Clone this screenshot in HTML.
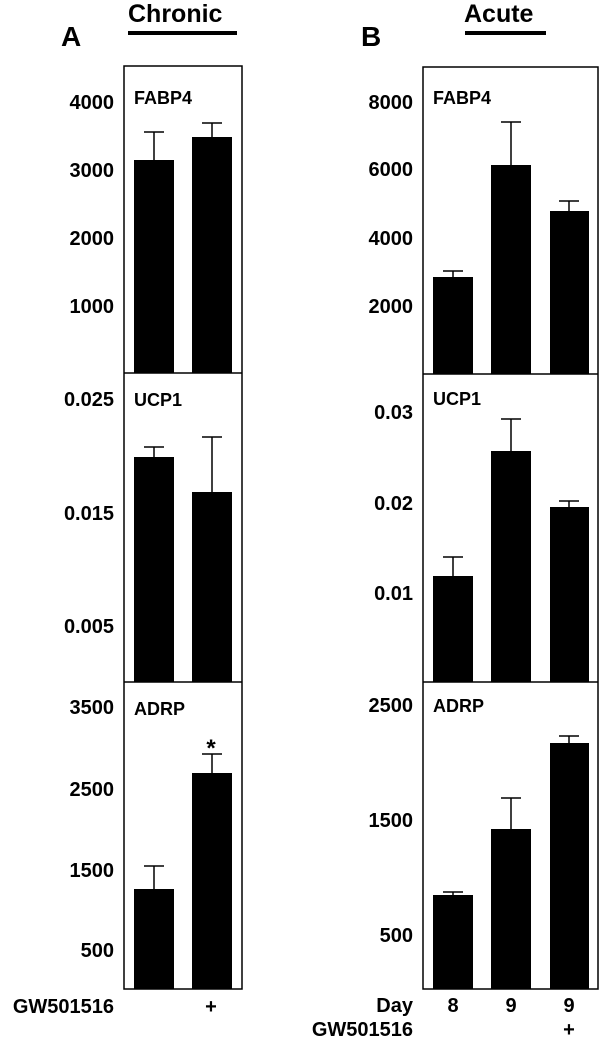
<!DOCTYPE html>
<html><head><meta charset="utf-8"><style>
html,body{margin:0;padding:0;background:#fff;}
svg{display:block;font-family:"Liberation Sans",Arial,sans-serif;font-weight:bold;}
</style></head><body>
<svg width="600" height="1043" viewBox="0 0 600 1043" xmlns="http://www.w3.org/2000/svg">
<g fill="#000">
<text x="61" y="46" font-size="28">A</text>
<text x="128" y="22" font-size="25">Chronic</text>
<rect x="128" y="31" width="109" height="4"/>
<text x="361" y="46" font-size="28">B</text>
<text x="464" y="22" font-size="25">Acute</text>
<rect x="465" y="31" width="81" height="4"/>
</g>
<g fill="none" stroke="#000" stroke-width="1.5">
<rect x="124" y="66" width="118" height="923"/>
<line x1="124" y1="373" x2="242" y2="373"/>
<line x1="124" y1="682" x2="242" y2="682"/>
<rect x="423" y="67" width="175" height="922"/>
<line x1="423" y1="374" x2="598" y2="374"/>
<line x1="423" y1="682" x2="598" y2="682"/>
</g>
<g fill="#000" font-size="20" text-anchor="end">
<text x="114" y="109">4000</text>
<text x="114" y="177">3000</text>
<text x="114" y="245">2000</text>
<text x="114" y="313">1000</text>
<text x="114" y="406">0.025</text>
<text x="114" y="520">0.015</text>
<text x="114" y="633">0.005</text>
<text x="114" y="714">3500</text>
<text x="114" y="796">2500</text>
<text x="114" y="877">1500</text>
<text x="114" y="957">500</text>
<text x="114" y="1013">GW501516</text>
<text x="413" y="109">8000</text>
<text x="413" y="176">6000</text>
<text x="413" y="245">4000</text>
<text x="413" y="313">2000</text>
<text x="413" y="419">0.03</text>
<text x="413" y="510">0.02</text>
<text x="413" y="600">0.01</text>
<text x="413" y="712">2500</text>
<text x="413" y="827">1500</text>
<text x="413" y="942">500</text>
<text x="413" y="1012">Day</text>
<text x="413" y="1036">GW501516</text>
</g>
<g fill="#000" font-size="18">
<text x="134" y="104">FABP4</text>
<text x="134" y="406">UCP1</text>
<text x="134" y="715">ADRP</text>
<text x="433" y="104">FABP4</text>
<text x="433" y="405">UCP1</text>
<text x="433" y="712">ADRP</text>
</g>
<g fill="#000" font-size="20" text-anchor="middle">
<text x="211" y="1013">+</text>
<text x="453" y="1012">8</text>
<text x="511" y="1012">9</text>
<text x="569" y="1012">9</text>
<text x="569" y="1036">+</text>
<text x="211" y="756" font-size="24">*</text>
</g>
<g fill="#000">
<rect x="134" y="160" width="40" height="213"/>
<rect x="192" y="137" width="40" height="236"/>
<rect x="134" y="457" width="40" height="225"/>
<rect x="192" y="492" width="40" height="190"/>
<rect x="134" y="889" width="40" height="100"/>
<rect x="192" y="773" width="40" height="216"/>
<rect x="433" y="277" width="40" height="97"/>
<rect x="491" y="165" width="40" height="209"/>
<rect x="550" y="211" width="39" height="163"/>
<rect x="433" y="576" width="40" height="106"/>
<rect x="491" y="451" width="40" height="231"/>
<rect x="550" y="507" width="39" height="175"/>
<rect x="433" y="895" width="40" height="94"/>
<rect x="491" y="829" width="40" height="160"/>
<rect x="550" y="743" width="39" height="246"/>
</g>
<g stroke="#000" stroke-width="1.5" fill="none">
<path d="M154 160V132M144 132H164"/>
<path d="M212 137V123M202 123H222"/>
<path d="M154 457V447M144 447H164"/>
<path d="M212 492V437M202 437H222"/>
<path d="M154 889V866M144 866H164"/>
<path d="M212 773V754M202 754H222"/>
<path d="M453 277V271M443 271H463"/>
<path d="M511 165V122M501 122H521"/>
<path d="M569 211V201M559 201H579"/>
<path d="M453 576V557M443 557H463"/>
<path d="M511 451V419M501 419H521"/>
<path d="M569 507V501M559 501H579"/>
<path d="M453 895V892M443 892H463"/>
<path d="M511 829V798M501 798H521"/>
<path d="M569 743V736M559 736H579"/>
</g>
</svg>
</body></html>
